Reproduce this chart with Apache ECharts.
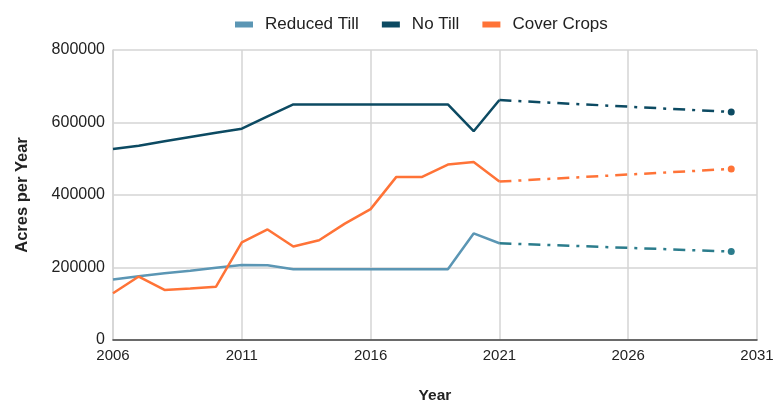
<!DOCTYPE html>
<html>
<head>
<meta charset="utf-8">
<script src="https://cdn.jsdelivr.net/npm/echarts@6/dist/echarts.min.js"></script>
<style>
  html, body { margin: 0; padding: 0; background: #fff; }
  #chart { width: 777px; height: 409px; }
</style>
</head>
<body>
<div id="chart"></div>
<script>
// actual values 2006-2021
const years = [2006, 2007, 2008, 2009, 2010, 2011, 2012, 2013, 2014, 2015, 2016, 2017, 2018, 2019, 2020, 2021];
const reducedTill = [167000, 176000, 184000, 191000, 199000, 207000, 206000, 195000, 195000, 195000, 195000, 195000, 195000, 195000, 294000, 267000];
const noTill = [527000, 536000, 548000, 560000, 572000, 583000, 617000, 650000, 650000, 650000, 650000, 650000, 650000, 650000, 576000, 662000];
const coverCrops = [129000, 175000, 138000, 142000, 147000, 269000, 305000, 258000, 275000, 321000, 361000, 450000, 450000, 484000, 491000, 437000];

// projections 2021 -> 2030
const projYears = [2021, 2030];
const reducedTillProj = [267000, 244000];
const noTillProj = [662000, 629000];
const coverCropsProj = [437000, 472000];

const colors = {
  reduced: "#5b96b4",
  reducedProj: "#2b7c8c",
  noTill: "#0c4a62",
  cover: "#ff7337"
};

function pairs(xs, ys) {
  return xs.map((x, i) => [x, ys[i]]);
}

function projPairs(xs, ys) {
  const d = pairs(xs, ys);
  const last = d.length - 1;
  d[last] = { value: d[last], symbol: "circle", symbolSize: 7 };
  return d;
}

const chart = echarts.init(document.getElementById("chart"));

function solid(name, ys, color) {
  return {
    name: name,
    type: "line",
    data: pairs(years, ys),
    symbol: "none",
    lineStyle: { color: color, width: 2.5 },
    itemStyle: { color: color },
    animation: false
  };
}

function proj(name, ys, color) {
  return {
    name: name,
    type: "line",
    data: projPairs(projYears, ys),
    symbol: "none",
    showSymbol: true,
    lineStyle: { color: color, width: 2.5, type: [12, 7, 3, 7] },
    itemStyle: { color: color },
    animation: false
  };
}

chart.setOption({
  textStyle: { fontFamily: "Liberation Sans, Arial, sans-serif" },
  legend: {
    data: ["Reduced Till", "No Till", "Cover Crops"],
    top: 11,
    left: 230,
    icon: "rect",
    itemWidth: 18,
    itemHeight: 6,
    itemGap: 23,
    textStyle: { fontSize: 17, color: "#222", padding: [0, 0, 0, 7] }
  },
  grid: { left: 113, right: 20, top: 50, bottom: 61 },
  xAxis: {
    type: "value",
    min: 2006,
    max: 2031,
    interval: 5,
    name: "Year",
    nameLocation: "middle",
    nameGap: 48,
    nameTextStyle: { fontSize: 15.5, fontWeight: "bold", color: "#222" },
    axisLine: { lineStyle: { color: "#444", width: 1.5 } },
    axisTick: { show: false },
    axisLabel: {
      fontSize: 15,
      color: "#222",
      margin: 8,
      formatter: v => String(v)
    },
    splitLine: { show: true, lineStyle: { color: "#d4d4d4", width: 1.5 } }
  },
  yAxis: {
    type: "value",
    min: 0,
    max: 800000,
    interval: 200000,
    name: "Acres per Year",
    nameLocation: "middle",
    nameGap: 82,
    nameTextStyle: { fontSize: 16.5, fontWeight: "bold", color: "#222" },
    axisLine: { show: true, lineStyle: { color: "#d4d4d4", width: 1.5 } },
    axisTick: { show: false },
    axisLabel: { fontSize: 16, color: "#222", margin: 8, formatter: v => String(v) },
    splitLine: { lineStyle: { color: "#d4d4d4", width: 1.5 } }
  },
  series: [
    solid("Reduced Till", reducedTill, colors.reduced),
    solid("No Till", noTill, colors.noTill),
    solid("Cover Crops", coverCrops, colors.cover),
    proj("Reduced Till Projection", reducedTillProj, colors.reducedProj),
    proj("No Till Projection", noTillProj, colors.noTill),
    proj("Cover Crops Projection", coverCropsProj, colors.cover)
  ]
});
</script>
</body>
</html>
